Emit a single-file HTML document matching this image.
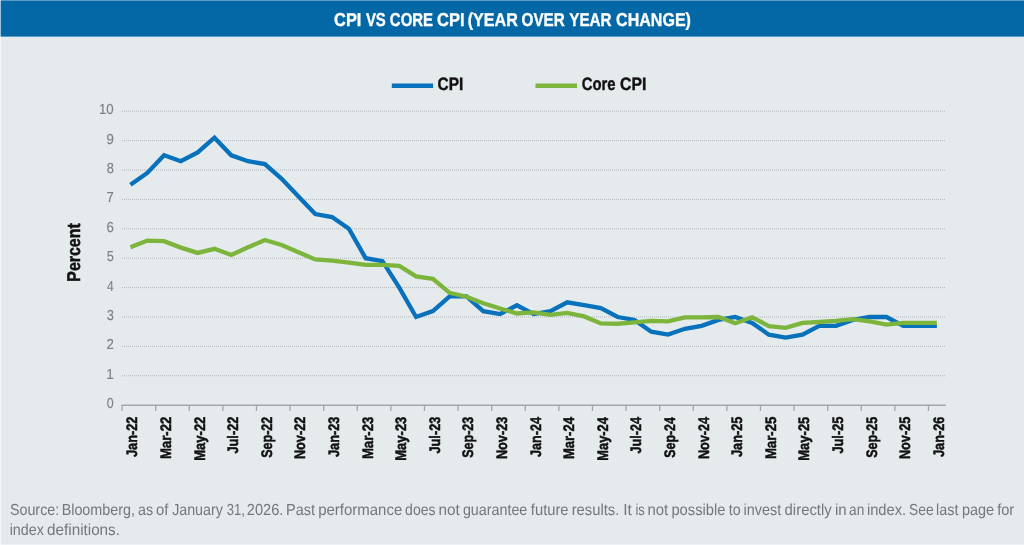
<!DOCTYPE html>
<html><head><meta charset="utf-8"><title>CPI vs Core CPI</title>
<style>html,body{margin:0;padding:0;background:#E5EAED;}body{width:1024px;height:545px;overflow:hidden;}svg{display:block;will-change:transform;}text{font-family:"Liberation Sans",sans-serif;text-rendering:geometricPrecision;}.b{font-weight:bold;}</style></head><body>
<svg width="1024" height="545" viewBox="0 0 1024 545">
<rect x="0" y="0" width="1024" height="545" fill="#E5EAED"/>
<rect x="0" y="0" width="1024" height="36.6" fill="#0568A6"/>
<rect x="0" y="0" width="1024" height="1" fill="#ffffff" fill-opacity="0.35"/>
<rect x="0" y="0" width="1" height="545" fill="#ffffff" fill-opacity="0.6"/>
<rect x="0" y="544" width="1024" height="1" fill="#ffffff" fill-opacity="0.4"/>
<text class="b" x="334.09" y="25.70" font-size="18.7" fill="#ffffff" textLength="27.28" lengthAdjust="spacingAndGlyphs" stroke="#ffffff" stroke-width="0.35">CPI</text>
<text class="b" x="365.90" y="25.70" font-size="18.7" fill="#ffffff" textLength="19.89" lengthAdjust="spacingAndGlyphs" stroke="#ffffff" stroke-width="0.35">VS</text>
<text class="b" x="389.83" y="25.70" font-size="18.7" fill="#ffffff" textLength="43.26" lengthAdjust="spacingAndGlyphs" stroke="#ffffff" stroke-width="0.35">CORE</text>
<text class="b" x="437.08" y="25.70" font-size="18.7" fill="#ffffff" textLength="27.49" lengthAdjust="spacingAndGlyphs" stroke="#ffffff" stroke-width="0.35">CPI</text>
<text class="b" x="467.64" y="25.70" font-size="18.7" fill="#ffffff" textLength="50.16" lengthAdjust="spacingAndGlyphs" stroke="#ffffff" stroke-width="0.35">(YEAR</text>
<text class="b" x="521.62" y="25.70" font-size="18.7" fill="#ffffff" textLength="43.17" lengthAdjust="spacingAndGlyphs" stroke="#ffffff" stroke-width="0.35">OVER</text>
<text class="b" x="569.26" y="25.70" font-size="18.7" fill="#ffffff" textLength="42.33" lengthAdjust="spacingAndGlyphs" stroke="#ffffff" stroke-width="0.35">YEAR</text>
<text class="b" x="616.10" y="25.70" font-size="18.7" fill="#ffffff" textLength="74.88" lengthAdjust="spacingAndGlyphs" stroke="#ffffff" stroke-width="0.35">CHANGE)</text>
<line x1="391.8" y1="85.7" x2="433.1" y2="85.7" stroke="#0871BB" stroke-width="4.4"/>
<line x1="535.5" y1="85.7" x2="577.0" y2="85.7" stroke="#7DB53C" stroke-width="4.4"/>
<text class="b" x="437.52" y="90.10" font-size="18.0" fill="#111111" textLength="25.69" lengthAdjust="spacingAndGlyphs" stroke="#111111" stroke-width="0.4">CPI</text>
<text class="b" x="581.63" y="90.10" font-size="18.0" fill="#111111" textLength="33.94" lengthAdjust="spacingAndGlyphs" stroke="#111111" stroke-width="0.4">Core</text>
<text class="b" x="620.11" y="90.10" font-size="18.0" fill="#111111" textLength="26.33" lengthAdjust="spacingAndGlyphs" stroke="#111111" stroke-width="0.4">CPI</text>
<line x1="122" y1="375.80" x2="945.5" y2="375.80" stroke="#B3B7BA" stroke-width="1" stroke-dasharray="1 1"/>
<line x1="122" y1="346.40" x2="945.5" y2="346.40" stroke="#B3B7BA" stroke-width="1" stroke-dasharray="1 1"/>
<line x1="122" y1="317.00" x2="945.5" y2="317.00" stroke="#B3B7BA" stroke-width="1" stroke-dasharray="1 1"/>
<line x1="122" y1="287.60" x2="945.5" y2="287.60" stroke="#B3B7BA" stroke-width="1" stroke-dasharray="1 1"/>
<line x1="122" y1="258.20" x2="945.5" y2="258.20" stroke="#B3B7BA" stroke-width="1" stroke-dasharray="1 1"/>
<line x1="122" y1="228.80" x2="945.5" y2="228.80" stroke="#B3B7BA" stroke-width="1" stroke-dasharray="1 1"/>
<line x1="122" y1="199.40" x2="945.5" y2="199.40" stroke="#B3B7BA" stroke-width="1" stroke-dasharray="1 1"/>
<line x1="122" y1="170.00" x2="945.5" y2="170.00" stroke="#B3B7BA" stroke-width="1" stroke-dasharray="1 1"/>
<line x1="122" y1="140.60" x2="945.5" y2="140.60" stroke="#B3B7BA" stroke-width="1" stroke-dasharray="1 1"/>
<line x1="122" y1="111.20" x2="945.5" y2="111.20" stroke="#B3B7BA" stroke-width="1" stroke-dasharray="1 1"/>
<text x="106.81" y="408.20" font-size="14.5" fill="#7F8285" textLength="6.90" lengthAdjust="spacingAndGlyphs" stroke="#7F8285" stroke-width="0.15">0</text>
<text x="106.34" y="378.80" font-size="14.5" fill="#7F8285" textLength="7.61" lengthAdjust="spacingAndGlyphs" stroke="#7F8285" stroke-width="0.15">1</text>
<text x="106.58" y="349.40" font-size="14.5" fill="#7F8285" textLength="7.36" lengthAdjust="spacingAndGlyphs" stroke="#7F8285" stroke-width="0.15">2</text>
<text x="106.80" y="320.00" font-size="14.5" fill="#7F8285" textLength="7.12" lengthAdjust="spacingAndGlyphs" stroke="#7F8285" stroke-width="0.15">3</text>
<text x="107.01" y="290.60" font-size="14.5" fill="#7F8285" textLength="6.69" lengthAdjust="spacingAndGlyphs" stroke="#7F8285" stroke-width="0.15">4</text>
<text x="106.80" y="261.20" font-size="14.5" fill="#7F8285" textLength="7.12" lengthAdjust="spacingAndGlyphs" stroke="#7F8285" stroke-width="0.15">5</text>
<text x="106.58" y="231.80" font-size="14.5" fill="#7F8285" textLength="7.36" lengthAdjust="spacingAndGlyphs" stroke="#7F8285" stroke-width="0.15">6</text>
<text x="106.58" y="202.40" font-size="14.5" fill="#7F8285" textLength="7.36" lengthAdjust="spacingAndGlyphs" stroke="#7F8285" stroke-width="0.15">7</text>
<text x="106.80" y="173.00" font-size="14.5" fill="#7F8285" textLength="7.12" lengthAdjust="spacingAndGlyphs" stroke="#7F8285" stroke-width="0.15">8</text>
<text x="106.58" y="143.60" font-size="14.5" fill="#7F8285" textLength="7.36" lengthAdjust="spacingAndGlyphs" stroke="#7F8285" stroke-width="0.15">9</text>
<text x="98.97" y="114.20" font-size="14.5" fill="#7F8285" textLength="14.76" lengthAdjust="spacingAndGlyphs" stroke="#7F8285" stroke-width="0.15">10</text>
<g transform="translate(80.00,280.70) rotate(-90)"><text class="b" x="-0.99" y="0" font-size="18.5" fill="#111111" stroke="#111111" stroke-width="0.5" textLength="58.37" lengthAdjust="spacingAndGlyphs">Percent</text></g>
<line x1="121.5" y1="405.3" x2="945.8" y2="405.3" stroke="#A3A7AA" stroke-width="1.5"/>
<line x1="122.07" y1="405" x2="122.07" y2="411" stroke="#A3A7AA" stroke-width="1.3"/>
<line x1="155.67" y1="405" x2="155.67" y2="411" stroke="#A3A7AA" stroke-width="1.3"/>
<line x1="189.27" y1="405" x2="189.27" y2="411" stroke="#A3A7AA" stroke-width="1.3"/>
<line x1="222.87" y1="405" x2="222.87" y2="411" stroke="#A3A7AA" stroke-width="1.3"/>
<line x1="256.47" y1="405" x2="256.47" y2="411" stroke="#A3A7AA" stroke-width="1.3"/>
<line x1="290.07" y1="405" x2="290.07" y2="411" stroke="#A3A7AA" stroke-width="1.3"/>
<line x1="323.67" y1="405" x2="323.67" y2="411" stroke="#A3A7AA" stroke-width="1.3"/>
<line x1="357.27" y1="405" x2="357.27" y2="411" stroke="#A3A7AA" stroke-width="1.3"/>
<line x1="390.87" y1="405" x2="390.87" y2="411" stroke="#A3A7AA" stroke-width="1.3"/>
<line x1="424.47" y1="405" x2="424.47" y2="411" stroke="#A3A7AA" stroke-width="1.3"/>
<line x1="458.07" y1="405" x2="458.07" y2="411" stroke="#A3A7AA" stroke-width="1.3"/>
<line x1="491.67" y1="405" x2="491.67" y2="411" stroke="#A3A7AA" stroke-width="1.3"/>
<line x1="525.27" y1="405" x2="525.27" y2="411" stroke="#A3A7AA" stroke-width="1.3"/>
<line x1="558.87" y1="405" x2="558.87" y2="411" stroke="#A3A7AA" stroke-width="1.3"/>
<line x1="592.47" y1="405" x2="592.47" y2="411" stroke="#A3A7AA" stroke-width="1.3"/>
<line x1="626.07" y1="405" x2="626.07" y2="411" stroke="#A3A7AA" stroke-width="1.3"/>
<line x1="659.67" y1="405" x2="659.67" y2="411" stroke="#A3A7AA" stroke-width="1.3"/>
<line x1="693.27" y1="405" x2="693.27" y2="411" stroke="#A3A7AA" stroke-width="1.3"/>
<line x1="726.87" y1="405" x2="726.87" y2="411" stroke="#A3A7AA" stroke-width="1.3"/>
<line x1="760.47" y1="405" x2="760.47" y2="411" stroke="#A3A7AA" stroke-width="1.3"/>
<line x1="794.07" y1="405" x2="794.07" y2="411" stroke="#A3A7AA" stroke-width="1.3"/>
<line x1="827.67" y1="405" x2="827.67" y2="411" stroke="#A3A7AA" stroke-width="1.3"/>
<line x1="861.27" y1="405" x2="861.27" y2="411" stroke="#A3A7AA" stroke-width="1.3"/>
<line x1="894.87" y1="405" x2="894.87" y2="411" stroke="#A3A7AA" stroke-width="1.3"/>
<line x1="928.47" y1="405" x2="928.47" y2="411" stroke="#A3A7AA" stroke-width="1.3"/>
<g transform="translate(137.42,457.00) rotate(-90)"><text class="b" x="0.00" y="0" font-size="15.2" fill="#111111" stroke="#111111" stroke-width="0.5" textLength="40.32" lengthAdjust="spacingAndGlyphs">Jan-22</text></g>
<g transform="translate(171.02,458.30) rotate(-90)"><text class="b" x="-0.82" y="0" font-size="15.2" fill="#111111" stroke="#111111" stroke-width="0.5" textLength="42.45" lengthAdjust="spacingAndGlyphs">Mar-22</text></g>
<g transform="translate(204.62,459.90) rotate(-90)"><text class="b" x="-0.81" y="0" font-size="15.2" fill="#111111" stroke="#111111" stroke-width="0.5" textLength="44.04" lengthAdjust="spacingAndGlyphs">May-22</text></g>
<g transform="translate(238.22,453.50) rotate(-90)"><text class="b" x="0.00" y="0" font-size="15.2" fill="#111111" stroke="#111111" stroke-width="0.5" textLength="36.82" lengthAdjust="spacingAndGlyphs">Jul-22</text></g>
<g transform="translate(271.82,457.60) rotate(-90)"><text class="b" x="-0.20" y="0" font-size="15.2" fill="#111111" stroke="#111111" stroke-width="0.5" textLength="41.11" lengthAdjust="spacingAndGlyphs">Sep-22</text></g>
<g transform="translate(305.42,458.30) rotate(-90)"><text class="b" x="-0.79" y="0" font-size="15.2" fill="#111111" stroke="#111111" stroke-width="0.5" textLength="42.41" lengthAdjust="spacingAndGlyphs">Nov-22</text></g>
<g transform="translate(339.02,457.00) rotate(-90)"><text class="b" x="0.00" y="0" font-size="15.2" fill="#111111" stroke="#111111" stroke-width="0.5" textLength="40.32" lengthAdjust="spacingAndGlyphs">Jan-23</text></g>
<g transform="translate(372.62,458.30) rotate(-90)"><text class="b" x="-0.82" y="0" font-size="15.2" fill="#111111" stroke="#111111" stroke-width="0.5" textLength="42.45" lengthAdjust="spacingAndGlyphs">Mar-23</text></g>
<g transform="translate(406.22,459.90) rotate(-90)"><text class="b" x="-0.81" y="0" font-size="15.2" fill="#111111" stroke="#111111" stroke-width="0.5" textLength="44.04" lengthAdjust="spacingAndGlyphs">May-23</text></g>
<g transform="translate(439.82,453.50) rotate(-90)"><text class="b" x="0.00" y="0" font-size="15.2" fill="#111111" stroke="#111111" stroke-width="0.5" textLength="36.82" lengthAdjust="spacingAndGlyphs">Jul-23</text></g>
<g transform="translate(473.42,457.60) rotate(-90)"><text class="b" x="-0.20" y="0" font-size="15.2" fill="#111111" stroke="#111111" stroke-width="0.5" textLength="41.11" lengthAdjust="spacingAndGlyphs">Sep-23</text></g>
<g transform="translate(507.02,458.30) rotate(-90)"><text class="b" x="-0.79" y="0" font-size="15.2" fill="#111111" stroke="#111111" stroke-width="0.5" textLength="42.41" lengthAdjust="spacingAndGlyphs">Nov-23</text></g>
<g transform="translate(540.62,457.00) rotate(-90)"><text class="b" x="0.00" y="0" font-size="15.2" fill="#111111" stroke="#111111" stroke-width="0.5" textLength="39.92" lengthAdjust="spacingAndGlyphs">Jan-24</text></g>
<g transform="translate(574.22,458.30) rotate(-90)"><text class="b" x="-0.81" y="0" font-size="15.2" fill="#111111" stroke="#111111" stroke-width="0.5" textLength="42.03" lengthAdjust="spacingAndGlyphs">Mar-24</text></g>
<g transform="translate(607.82,459.90) rotate(-90)"><text class="b" x="-0.80" y="0" font-size="15.2" fill="#111111" stroke="#111111" stroke-width="0.5" textLength="43.62" lengthAdjust="spacingAndGlyphs">May-24</text></g>
<g transform="translate(641.42,453.50) rotate(-90)"><text class="b" x="0.00" y="0" font-size="15.2" fill="#111111" stroke="#111111" stroke-width="0.5" textLength="36.42" lengthAdjust="spacingAndGlyphs">Jul-24</text></g>
<g transform="translate(675.02,457.60) rotate(-90)"><text class="b" x="-0.19" y="0" font-size="15.2" fill="#111111" stroke="#111111" stroke-width="0.5" textLength="40.72" lengthAdjust="spacingAndGlyphs">Sep-24</text></g>
<g transform="translate(708.62,458.30) rotate(-90)"><text class="b" x="-0.79" y="0" font-size="15.2" fill="#111111" stroke="#111111" stroke-width="0.5" textLength="42.01" lengthAdjust="spacingAndGlyphs">Nov-24</text></g>
<g transform="translate(742.22,457.00) rotate(-90)"><text class="b" x="0.00" y="0" font-size="15.2" fill="#111111" stroke="#111111" stroke-width="0.5" textLength="40.32" lengthAdjust="spacingAndGlyphs">Jan-25</text></g>
<g transform="translate(775.82,458.30) rotate(-90)"><text class="b" x="-0.82" y="0" font-size="15.2" fill="#111111" stroke="#111111" stroke-width="0.5" textLength="42.45" lengthAdjust="spacingAndGlyphs">Mar-25</text></g>
<g transform="translate(809.42,459.90) rotate(-90)"><text class="b" x="-0.81" y="0" font-size="15.2" fill="#111111" stroke="#111111" stroke-width="0.5" textLength="44.04" lengthAdjust="spacingAndGlyphs">May-25</text></g>
<g transform="translate(843.02,453.50) rotate(-90)"><text class="b" x="0.00" y="0" font-size="15.2" fill="#111111" stroke="#111111" stroke-width="0.5" textLength="36.82" lengthAdjust="spacingAndGlyphs">Jul-25</text></g>
<g transform="translate(876.62,457.60) rotate(-90)"><text class="b" x="-0.20" y="0" font-size="15.2" fill="#111111" stroke="#111111" stroke-width="0.5" textLength="41.11" lengthAdjust="spacingAndGlyphs">Sep-25</text></g>
<g transform="translate(910.22,458.30) rotate(-90)"><text class="b" x="-0.79" y="0" font-size="15.2" fill="#111111" stroke="#111111" stroke-width="0.5" textLength="42.41" lengthAdjust="spacingAndGlyphs">Nov-25</text></g>
<g transform="translate(943.82,457.00) rotate(-90)"><text class="b" x="0.00" y="0" font-size="15.2" fill="#111111" stroke="#111111" stroke-width="0.5" textLength="40.32" lengthAdjust="spacingAndGlyphs">Jan-26</text></g>
<polyline points="130.47,184.70 147.27,172.94 164.07,155.30 180.87,161.18 197.67,152.36 214.47,137.66 231.27,155.30 248.07,161.18 264.87,164.12 281.67,178.82 298.47,196.46 315.27,214.10 332.07,217.04 348.87,228.80 365.67,258.20 382.47,261.14 399.27,287.60 416.07,317.00 432.87,311.12 449.67,296.42 466.47,296.42 483.27,311.12 500.07,314.06 516.87,305.24 533.67,314.06 550.47,311.12 567.27,302.30 584.07,305.24 600.87,308.18 617.67,317.00 634.47,319.94 651.27,331.70 668.07,334.64 684.87,328.76 701.67,325.82 718.47,319.94 735.27,317.00 752.07,322.88 768.87,334.64 785.67,337.58 802.47,334.64 819.27,325.82 836.07,325.82 852.87,319.94 869.67,317.00 886.47,317.00 903.27,325.82 920.07,325.82 936.87,325.82" fill="none" stroke="#0871BB" stroke-width="4.3" stroke-linejoin="miter" stroke-miterlimit="10" stroke-linecap="butt"/>
<polyline points="130.47,247.32 147.27,240.56 164.07,241.15 180.87,247.62 197.67,252.91 214.47,248.79 231.27,254.97 248.07,247.32 264.87,239.97 281.67,244.97 298.47,252.32 315.27,259.38 332.07,260.55 348.87,262.61 365.67,264.96 382.47,264.96 399.27,265.84 416.07,276.43 432.87,278.78 449.67,292.89 466.47,296.71 483.27,303.18 500.07,308.47 516.87,313.47 533.67,312.30 550.47,314.94 567.27,312.88 584.07,316.41 600.87,323.47 617.67,323.76 634.47,322.29 651.27,320.82 668.07,321.41 684.87,317.29 701.67,317.29 718.47,317.00 735.27,323.17 752.07,317.29 768.87,326.11 785.67,327.88 802.47,322.88 819.27,322.00 836.07,320.82 852.87,319.06 869.67,321.41 886.47,324.64 903.27,322.88 920.07,322.88 936.87,322.88" fill="none" stroke="#7DB53C" stroke-width="4.3" stroke-linejoin="miter" stroke-miterlimit="10" stroke-linecap="butt"/>
<text x="9.90" y="514.90" font-size="16.0" fill="#75787B" textLength="49.34" lengthAdjust="spacingAndGlyphs">Source:</text>
<text x="61.63" y="514.90" font-size="16.0" fill="#75787B" textLength="73.39" lengthAdjust="spacingAndGlyphs">Bloomberg,</text>
<text x="138.10" y="514.90" font-size="16.0" fill="#75787B" textLength="15.09" lengthAdjust="spacingAndGlyphs">as</text>
<text x="156.09" y="514.90" font-size="16.0" fill="#75787B" textLength="12.31" lengthAdjust="spacingAndGlyphs">of</text>
<text x="172.13" y="514.90" font-size="16.0" fill="#75787B" textLength="50.72" lengthAdjust="spacingAndGlyphs">January</text>
<text x="226.84" y="514.90" font-size="16.0" fill="#75787B" textLength="18.08" lengthAdjust="spacingAndGlyphs">31,</text>
<text x="246.87" y="514.90" font-size="16.0" fill="#75787B" textLength="36.50" lengthAdjust="spacingAndGlyphs">2026.</text>
<text x="286.02" y="514.90" font-size="16.0" fill="#75787B" textLength="28.98" lengthAdjust="spacingAndGlyphs">Past</text>
<text x="318.21" y="514.90" font-size="16.0" fill="#75787B" textLength="84.04" lengthAdjust="spacingAndGlyphs">performance</text>
<text x="405.11" y="514.90" font-size="16.0" fill="#75787B" textLength="30.48" lengthAdjust="spacingAndGlyphs">does</text>
<text x="438.60" y="514.90" font-size="16.0" fill="#75787B" textLength="21.20" lengthAdjust="spacingAndGlyphs">not</text>
<text x="462.90" y="514.90" font-size="16.0" fill="#75787B" textLength="64.43" lengthAdjust="spacingAndGlyphs">guarantee</text>
<text x="530.85" y="514.90" font-size="16.0" fill="#75787B" textLength="37.70" lengthAdjust="spacingAndGlyphs">future</text>
<text x="571.63" y="514.90" font-size="16.0" fill="#75787B" textLength="47.66" lengthAdjust="spacingAndGlyphs">results.</text>
<text x="623.16" y="514.90" font-size="16.0" fill="#75787B" textLength="8.62" lengthAdjust="spacingAndGlyphs">It</text>
<text x="635.44" y="514.90" font-size="16.0" fill="#75787B" textLength="9.31" lengthAdjust="spacingAndGlyphs">is</text>
<text x="647.52" y="514.90" font-size="16.0" fill="#75787B" textLength="20.68" lengthAdjust="spacingAndGlyphs">not</text>
<text x="671.43" y="514.90" font-size="16.0" fill="#75787B" textLength="54.02" lengthAdjust="spacingAndGlyphs">possible</text>
<text x="728.75" y="514.90" font-size="16.0" fill="#75787B" textLength="11.88" lengthAdjust="spacingAndGlyphs">to</text>
<text x="743.55" y="514.90" font-size="16.0" fill="#75787B" textLength="37.65" lengthAdjust="spacingAndGlyphs">invest</text>
<text x="784.58" y="514.90" font-size="16.0" fill="#75787B" textLength="47.17" lengthAdjust="spacingAndGlyphs">directly</text>
<text x="834.91" y="514.90" font-size="16.0" fill="#75787B" textLength="11.68" lengthAdjust="spacingAndGlyphs">in</text>
<text x="849.12" y="514.90" font-size="16.0" fill="#75787B" textLength="15.19" lengthAdjust="spacingAndGlyphs">an</text>
<text x="866.93" y="514.90" font-size="16.0" fill="#75787B" textLength="39.25" lengthAdjust="spacingAndGlyphs">index.</text>
<text x="909.02" y="514.90" font-size="16.0" fill="#75787B" textLength="24.59" lengthAdjust="spacingAndGlyphs">See</text>
<text x="936.05" y="514.90" font-size="16.0" fill="#75787B" textLength="22.35" lengthAdjust="spacingAndGlyphs">last</text>
<text x="962.05" y="514.90" font-size="16.0" fill="#75787B" textLength="32.09" lengthAdjust="spacingAndGlyphs">page</text>
<text x="997.15" y="514.90" font-size="16.0" fill="#75787B" textLength="17.07" lengthAdjust="spacingAndGlyphs">for</text>
<text x="9.66" y="535.10" font-size="16.0" fill="#75787B" textLength="34.19" lengthAdjust="spacingAndGlyphs">index</text>
<text x="47.07" y="535.10" font-size="16.0" fill="#75787B" textLength="72.90" lengthAdjust="spacingAndGlyphs">definitions.</text>
</svg></body></html>
